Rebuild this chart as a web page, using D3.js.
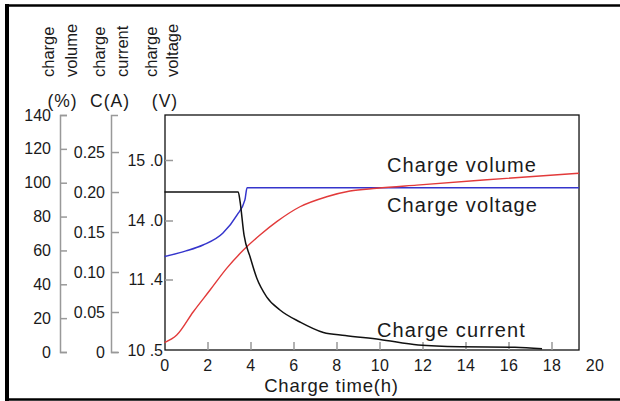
<!DOCTYPE html>
<html>
<head>
<meta charset="utf-8">
<script src="https://cdn.jsdelivr.net/npm/d3@7/dist/d3.min.js"></script>
<style>
  body { margin: 0; background: #fff; }
  svg { display: block; font-family: "Liberation Sans", Arial, sans-serif; }
  .axis text { fill: #1a1a1a; }
  .gray path, .gray line { stroke: #999; stroke-width: 1.5; }
  .label { fill: #1a1a1a; }
</style>
</head>
<body>
<svg width="620" height="401"></svg>
<script>
// charge curves (hours -> value)
var volumeHours = [0, 0.57, 1.34, 2.12, 2.89, 3.67, 4.44, 5.22, 6.3, 7.54, 8.63, 9.87, 11.73, 14.83, 19.28];
var volumePct   = [5.6, 10, 23.8, 36.6, 49.4, 60.2, 69.1, 77, 85.8, 91.7, 95.1, 96.7, 98.6, 101.6, 105.6];

var currentHours = [0, 3.43, 3.51, 3.70, 3.98, 4.29, 4.75, 5.37, 6.3, 7.39, 8.4, 10.02, 11.8, 13.74, 16.3, 17.56];
var currentAmp   = [0.2, 0.2, 0.189, 0.146, 0.119, 0.0925, 0.069, 0.0525, 0.0375, 0.0244, 0.0206, 0.0156, 0.0088, 0.0066, 0.006, 0.0041];

var voltageHours = [0, 1, 1.79, 2.72, 3.37, 3.74, 3.84, 19.28];
var voltageV     = [12.41, 12.66, 12.92, 13.45, 14.09, 14.34, 14.54, 14.54];

// tick values / labels
var hourTicks = [0, 2, 4, 6, 8, 10, 12, 14, 16, 18, 20];
var pctTicks = [0, 20, 40, 60, 80, 100, 120, 140];
var ampTicks = [0, 0.05, 0.10, 0.15, 0.20, 0.25];
var voltTicks = [10.5, 11.4, 14.0, 15.0];
var voltLabels = ['10 .5', '11 .4', '14 .0', '15 .0'];

var titles = [['charge', 'volume'], ['charge', 'current'], ['charge', 'voltage']];
var units = ['(%)', 'C(A)', '(V)'];
var seriesNames = ['Charge volume', 'Charge voltage', 'Charge current'];

var svg = d3.select('svg');

var box = { l: 165, t: 115, b: 350, endHour: 19.28 };

// scales
var x = d3.scaleLinear().domain([0, 20]).range([164.5, 594.5]);
var pctScale = d3.scaleLinear().domain([0, 140]).range([352, 115]);
var ampScale = d3.scaleLinear().domain([0, 0.2963]).range([352, 115]);
// the voltage axis is not evenly labelled in the original
var voltScale = d3.scaleLinear().domain(voltTicks).range([350, 279.5, 220.5, 160]);

// outer frame (left, top, bottom)
svg.append('line').attr('x1', 7).attr('x2', 7).attr('y1', 4).attr('y2', 401)
    .attr('stroke', '#000').attr('stroke-width', 4);
svg.append('line').attr('x1', 5).attr('x2', 620).attr('y1', 5.5).attr('y2', 5.5)
    .attr('stroke', '#000').attr('stroke-width', 2.5);
svg.append('line').attr('x1', 5).attr('x2', 620).attr('y1', 399.5).attr('y2', 399.5)
    .attr('stroke', '#000').attr('stroke-width', 2.5);

// plot box
svg.append('rect')
    .attr('x', box.l).attr('y', box.t)
    .attr('width', x(box.endHour) - box.l).attr('height', box.b - box.t)
    .attr('fill', 'none').attr('stroke', '#111').attr('stroke-width', 1.3);

// % axis
svg.append('g').attr('class', 'axis gray')
    .attr('transform', 'translate(60,0)')
    .call(d3.axisLeft(pctScale).tickValues(pctTicks).tickSizeInner(-7).tickSizeOuter(-7).tickPadding(9))
    .call(g => g.selectAll('text').style('font-size', '16px'));

// current axis
svg.append('g').attr('class', 'axis gray')
    .attr('transform', 'translate(111,0)')
    .call(d3.axisLeft(ampScale).tickValues(ampTicks).tickSizeInner(-8).tickSizeOuter(-7).tickPadding(6)
        .tickFormat(d => d === 0 ? '0' : d3.format('.2f')(d)))
    .call(g => g.selectAll('text').style('font-size', '16px'));

// voltage axis (box edge is its line)
svg.append('g').attr('class', 'axis gray')
    .attr('transform', 'translate(' + box.l + ',0)')
    .call(d3.axisLeft(voltScale).tickValues(voltTicks).tickSizeInner(-8).tickSizeOuter(0).tickPadding(2)
        .tickFormat((d, i) => voltLabels[i]))
    .call(g => g.select('.domain').remove())
    .call(g => g.selectAll('text').style('font-size', '16px'))
    .call(g => g.selectAll('.tick').filter(d => d === 10.5).select('line').remove());

// x axis, ticks point up inside the box
svg.append('g').attr('class', 'axis gray')
    .attr('transform', 'translate(0,' + box.b + ')')
    .call(d3.axisBottom(x).tickValues(hourTicks).tickSizeInner(-8).tickSizeOuter(0).tickPadding(10))
    .call(g => g.select('.domain').remove())
    .call(g => g.selectAll('text').style('font-size', '16px').attr('letter-spacing', '0.4px'))
    .call(g => g.selectAll('.tick').filter(d => d === 0 || d === 20).select('line').remove());

// axis titles (rotated, two lines each)
var titleX = [[54, 77], [105, 128], [157, 178]];
titles.forEach(function(lines, i) {
    lines.forEach(function(t, j) {
        svg.append('text').attr('class', 'label')
            .attr('transform', 'translate(' + titleX[i][j] + ',77) rotate(-90)')
            .style('font-size', '16.5px')
            .text(t);
    });
});
var unitX = [62.5, 110, 165];
units.forEach(function(u, i) {
    svg.append('text').attr('class', 'label')
        .attr('x', unitX[i]).attr('y', 106.5)
        .attr('text-anchor', 'middle')
        .attr('letter-spacing', '1px')
        .style('font-size', '17.5px')
        .text(u);
});

// curves
function zip(a, b) { return a.map((d, i) => [d, b[i]]); }

function drawCurve(hours, vals, yScale, color, width) {
    var line = d3.line()
        .x(d => x(d[0]))
        .y(d => yScale(d[1]))
        .curve(d3.curveMonotoneX);
    svg.append('path')
        .datum(zip(hours, vals))
        .attr('d', line)
        .attr('fill', 'none')
        .attr('stroke', color)
        .attr('stroke-width', width);
}

drawCurve(voltageHours, voltageV, voltScale, '#3535cc', 1.5);
drawCurve(volumeHours, volumePct, pctScale, '#e23a3a', 1.4);
drawCurve(currentHours, currentAmp, ampScale, '#111', 1.5);

// series labels
var seriesPos = [[387, 171.5], [387, 211.5], [377, 336.5]];
seriesNames.forEach(function(s, i) {
    svg.append('text').attr('class', 'label')
        .attr('x', seriesPos[i][0]).attr('y', seriesPos[i][1])
        .attr('letter-spacing', '1.1px')
        .style('font-size', '20px')
        .text(s);
});

// x axis title
svg.append('text').attr('class', 'label')
    .attr('x', 331.5).attr('y', 392)
    .attr('text-anchor', 'middle')
    .attr('letter-spacing', '0.8px')
    .style('font-size', '18.5px')
    .text('Charge time(h)');
</script>
</body>
</html>
